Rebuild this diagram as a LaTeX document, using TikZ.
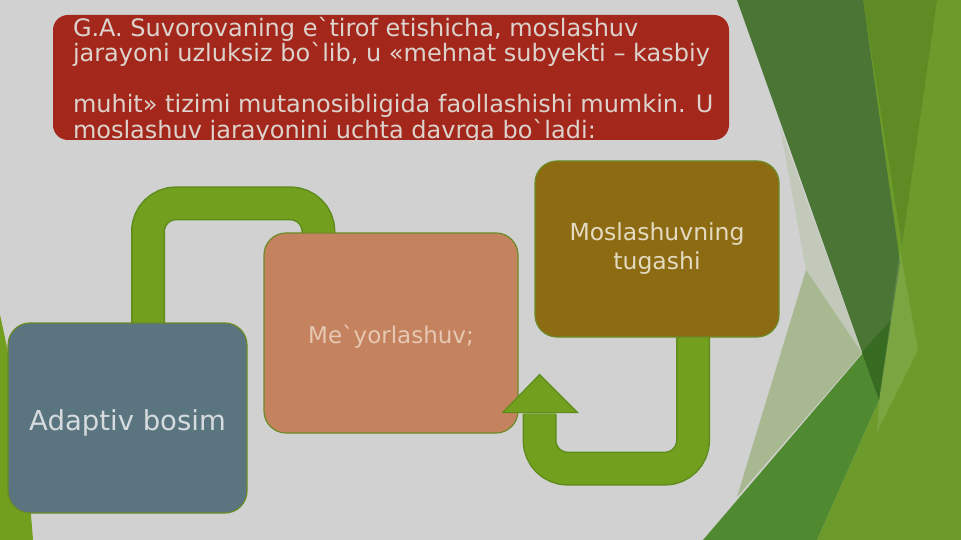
\documentclass[tikz,border=0pt]{standalone}
\usepackage{fontspec}
\setmainfont{DejaVu Sans}
\usepackage{tikz}
\usetikzlibrary{calc}

\definecolor{slidegray}{HTML}{D1D1D1}
\definecolor{introred}{HTML}{A4271C}
\definecolor{introink}{HTML}{DCD3CD}
\definecolor{slate}{HTML}{5A7480}
\definecolor{slateink}{HTML}{D6DBDD}
\definecolor{salmon}{HTML}{C4825E}
\definecolor{salmonink}{HTML}{E6C8B3}
\definecolor{olivebox}{HTML}{8C6B12}
\definecolor{oliveink}{HTML}{E4DAC1}
\definecolor{boxline}{HTML}{6C8A26}
\definecolor{bandgreen}{HTML}{72A01E}
\definecolor{bandline}{HTML}{5E8C1C}
\definecolor{facetlight}{HTML}{6C9B2B}
\definecolor{facetmid}{HTML}{5F8B25}
\definecolor{facetdark}{HTML}{4A7535}
\definecolor{facetdeep}{HTML}{386B22}
\definecolor{facetband}{HTML}{4F8A30}
\definecolor{facetpale}{HTML}{8AA860}

\newcommand{\grv}{\textasciigrave}

\pgfdeclarelayer{facets}
\pgfdeclarelayer{under}
\pgfdeclarelayer{boxes}
\pgfdeclarelayer{over}
\pgfsetlayers{facets,under,boxes,over,main}

\begin{document}
\begin{tikzpicture}[x=1pt, y=-1pt,
    box/.style={draw=boxline, line width=1.2pt, rounded corners=22pt, inner sep=0pt, align=center},
    band/.style={draw=bandgreen, line width=31pt, rounded corners=28pt, preaction={draw=bandline, line width=34pt}},
    head/.style={fill=bandgreen, draw=bandline, line width=1.2pt}]

	\useasboundingbox (0,0) rectangle (961,540);

	% slide background and green facets
	\begin{pgfonlayer}{facets}
		\fill[slidegray] (0,0) rectangle (961,540);
		\fill[facetlight] (863,0) -- (961,0) -- (961,540) -- (817,540) -- (879,400) -- cycle;
		\fill[facetmid] (863,0) -- (937,0) -- (902,245) -- cycle;
		\fill[facetband] (703,540) -- (863,353) -- (879,400) -- (817,540) -- cycle;
		\fill[facetdark] (737,0) -- (863,0) -- (900,262) -- (879,400) -- cycle;
		\fill[facetdeep] (862,352) -- (891,320) -- (879,400) -- cycle;
		\fill[facetpale, opacity=.2] (780,127) -- (862,353) -- (737,497) -- (806,270) -- cycle;
		\fill[facetpale, opacity=.45] (806,270) -- (862,353) -- (737,497) -- cycle;
		\fill[white, opacity=.1] (900,250) -- (918,350) -- (877,432) -- (879,400) -- cycle;
		\fill[bandgreen] (0,315) .. controls (15,380) and (28,470) .. (33,540) -- (0,540) -- cycle;
	\end{pgfonlayer}

	\node[fill=introred, rounded corners=15pt, minimum width=676pt, minimum height=125pt] (intro) at (391,77.5) {};
	\node[anchor=north west, inner sep=0pt, align=left, text=introink, font=\fontsize{24}{25.5}\selectfont] (introtxt) at ([xshift=20pt,yshift=-2pt]intro.north west)
	{G.A. Suvorovaning e\grv tirof etishicha, moslashuv\\
	jarayoni uzluksiz bo\grv lib, u «mehnat subyekti – kasbiy\\[25.5pt]
	muhit» tizimi mutanosibligida faollashishi mumkin. U\\
	moslashuv jarayonini uchta davrga bo\grv ladi:};

	\begin{pgfonlayer}{boxes}
		\node[box, fill=slate, text=slateink, minimum width=239pt, minimum height=190pt, text height=30pt, text depth=6pt, font=\fontsize{27.5}{33}\selectfont] (ada) at (127.5,418) {Adaptiv bosim};
		\node[box, fill=salmon, text=salmonink, minimum width=254pt, minimum height=200pt, text height=25pt, text depth=5pt, font=\fontsize{23}{28}\selectfont] (mey) at (391,333) {Me\grv yorlashuv;};
	\end{pgfonlayer}
	\node[box, fill=olivebox, text=oliveink, minimum width=244pt, minimum height=176pt, font=\fontsize{23.5}{29}\selectfont] (tug) at (657,249) {Moslashuvning\\tugashi};

	\coordinate (tip) at ([xshift=21pt,yshift=59pt]mey.south east);

	\begin{pgfonlayer}{under}
		\draw[band] ([xshift=20.5pt,yshift=-6pt]ada.north) -- ++(0,-125) -| ([xshift=55pt,yshift=-8pt]mey.north west);
	\end{pgfonlayer}
	\begin{pgfonlayer}{over}
		\filldraw[head] (tip) -- ([xshift=-37pt,yshift=-38pt]tip) -- ([xshift=38pt,yshift=-38pt]tip) -- cycle;
		\draw[band] ([xshift=36pt,yshift=6pt]tug.south) -- ++(0,137) -| ([yshift=-39pt]tip);
	\end{pgfonlayer}

\end{tikzpicture}
\end{document}
